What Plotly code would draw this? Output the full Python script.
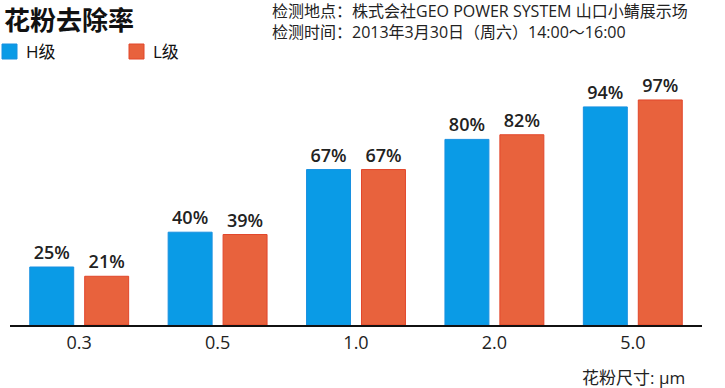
import plotly.graph_objects as go

categories = ["0.3", "0.5", "1.0", "2.0", "5.0"]
h_values = [25, 40, 67, 80, 94]
l_values = [21, 39, 67, 82, 97]
series_names = ["H级", "L级"]

BLUE = "#0A9BE6"
BLUE_EDGE = "#1890E0"
ORANGE = "#E8623D"
ORANGE_EDGE = "#E2462A"
TXT = "#222222"
LABEL_FONT = dict(family="Open Sans, Noto Sans CJK SC", size=18, color=TXT, weight=600)

W, H = 725, 388

fig = go.Figure()
for name, vals, col, edge in [(series_names[0], h_values, BLUE, BLUE_EDGE),
                              (series_names[1], l_values, ORANGE, ORANGE_EDGE)]:
    fig.add_trace(go.Bar(
        x=categories, y=vals, name=name,
        marker=dict(color=col, line=dict(color=edge, width=1)),
        text=[f"{v}%" for v in vals], textposition="outside",
        textfont=LABEL_FONT, cliponaxis=False, showlegend=False,
    ))

fig.update_layout(
    width=W, height=H,
    margin=dict(l=10, r=725 - 702, t=93, b=388 - 325, autoexpand=False),
    paper_bgcolor="white", plot_bgcolor="white",
    barmode="group", bargap=0.206, bargroupgap=0.2,
    font=dict(family="Open Sans, Noto Sans CJK SC", color=TXT),
    xaxis=dict(type="category", showline=True, linecolor="#111111", linewidth=2,
               ticks="", showgrid=False, automargin=False,
               tickfont=dict(family="Open Sans", size=18, color=TXT, weight=500)),
    yaxis=dict(range=[0, 100], visible=False, showgrid=False, automargin=False),
    showlegend=False,
)

def px_x(p):
    return (p - 10) / 692

def px_y(p):
    return (325 - p) / 232

# title
fig.add_annotation(text="<b>花粉去除率</b>", xref="paper", yref="paper",
                   x=px_x(3), y=px_y(18), xanchor="left", yanchor="middle", borderpad=0,
                   showarrow=False, font=dict(family="Noto Sans CJK SC", size=26, color="#111111"))
# legend (drawn manually)
legend_items = [(series_names[0], BLUE, BLUE_EDGE, 2), (series_names[1], ORANGE, ORANGE_EDGE, 129)]
for name, col, edge, x0 in legend_items:
    fig.add_shape(type="rect", xref="paper", yref="paper",
                  x0=px_x(x0), x1=px_x(x0 + 15), y0=px_y(59), y1=px_y(44),
                  fillcolor=col, line=dict(color=edge, width=1))
    fig.add_annotation(text=name, xref="paper", yref="paper",
                       x=px_x(x0 + 22), y=px_y(51.5), xanchor="left", yanchor="middle",
                       showarrow=False, font=dict(family="Open Sans, Noto Sans CJK SC", size=17, color="#111111"))
fig.add_annotation(text="检测地点：株式会社GEO POWER SYSTEM 山口小鲭展示场<br>检测时间：2013年3月30日（周六）14:00～16:00",
                   xref="paper", yref="paper", align="left", borderpad=0,
                   x=px_x(271), y=px_y(21.5), xanchor="left", yanchor="middle",
                   showarrow=False, font=dict(family="Open Sans, Noto Sans CJK SC", size=16, color=TXT))
fig.add_annotation(text="花粉尺寸: μm", xref="paper", yref="paper",
                   x=px_x(686), y=px_y(377), xanchor="right", yanchor="middle", borderpad=0,
                   showarrow=False, font=dict(family="Open Sans, Noto Sans CJK SC", size=17, color=TXT))

fig.write_html("out.html", config={"displayModeBar": False},
               post_script="document.body.style.margin='0';")
